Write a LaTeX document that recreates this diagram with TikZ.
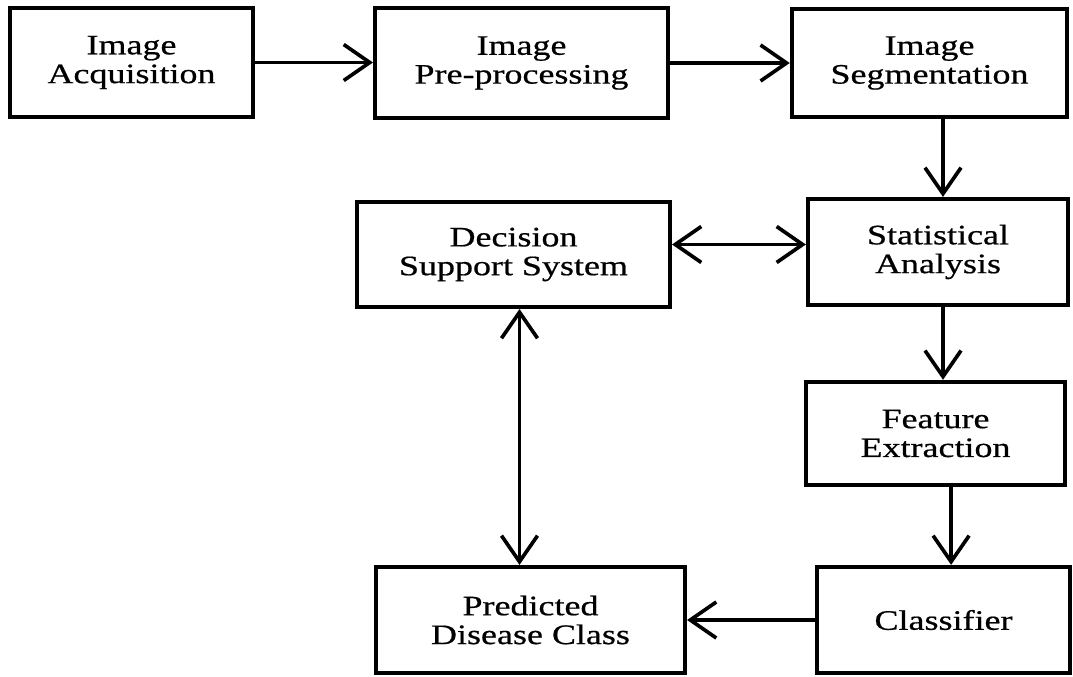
\documentclass[tikz,border=0pt]{standalone}
\usepackage{fontspec}
\setmainfont{Liberation Serif}[FakeStretch=1.28,FakeBold=0.6]
\usepackage{tikz}
\usetikzlibrary{arrows.meta,positioning}

\begin{document}
\begin{tikzpicture}[
  x=0.025cm, y=-0.025cm,
  every node/.style={font=\fontsize{20}{20.5}\selectfont},
  box/.style={draw=black, line width=3pt, align=center, inner sep=0pt},
  arrow/.style={-{Straight Barb[length=6.5mm,width=9mm,line width=2.6pt]}, line width=2.6pt},
  twoway/.style={{Straight Barb[length=6.5mm,width=9mm,line width=2.6pt]}-{Straight Barb[length=6.5mm,width=9mm,line width=2.6pt]}, line width=2.6pt}
]
\useasboundingbox (0,0) rectangle (1073,677);
% top row
\node[box, minimum width=6.08cm, minimum height=2.72cm] (acq) at (131.5,62.5) {Image\\Acquisition};
\node[box, minimum width=7.32cm, minimum height=2.75cm] (pre) at (521.5,63) {Image\\Pre-processing};
\node[box, minimum width=6.88cm, minimum height=2.70cm] (seg) at (929.5,63) {Image\\Segmentation};
% middle
\node[box, minimum width=7.82cm, minimum height=2.62cm] (dss) at (513.5,254.5) {Decision\\Support System};
\node[box, minimum width=6.50cm, minimum height=2.65cm] (stat) at (938,252) {Statistical\\Analysis};
\node[box, minimum width=6.48cm, minimum height=2.58cm] (feat) at (935.5,433.5) {Feature\\Extraction};
% bottom row
\node[box, minimum width=7.72cm, minimum height=2.65cm] (pred) at (530.5,620) {Predicted\\Disease Class};
\node[box, minimum width=6.32cm, minimum height=2.65cm] (cls) at (943.5,620) {Classifier};
% connectors
\draw[arrow] (acq.east) -- (acq.east -| pre.west);
\draw[arrow] (pre.east) -- (pre.east -| seg.west);
\draw[arrow] ([xshift=0.125cm]stat.north |- seg.south) -- ([xshift=0.125cm]stat.north);
\draw[twoway] ([yshift=0.25cm]dss.east) -- ([yshift=0.25cm]dss.east -| stat.west);
\draw[arrow] ([xshift=0.125cm]stat.south) -- ([xshift=0.125cm]stat.south |- feat.north);
\draw[arrow] ([xshift=0.19cm]cls.north |- feat.south) -- ([xshift=0.19cm]cls.north);
\draw[arrow] (cls.west) -- (pred.east);
\draw[twoway] ([xshift=0.15cm]dss.south) -- ([xshift=0.15cm]dss.south |- pred.north);
\end{tikzpicture}
\end{document}
